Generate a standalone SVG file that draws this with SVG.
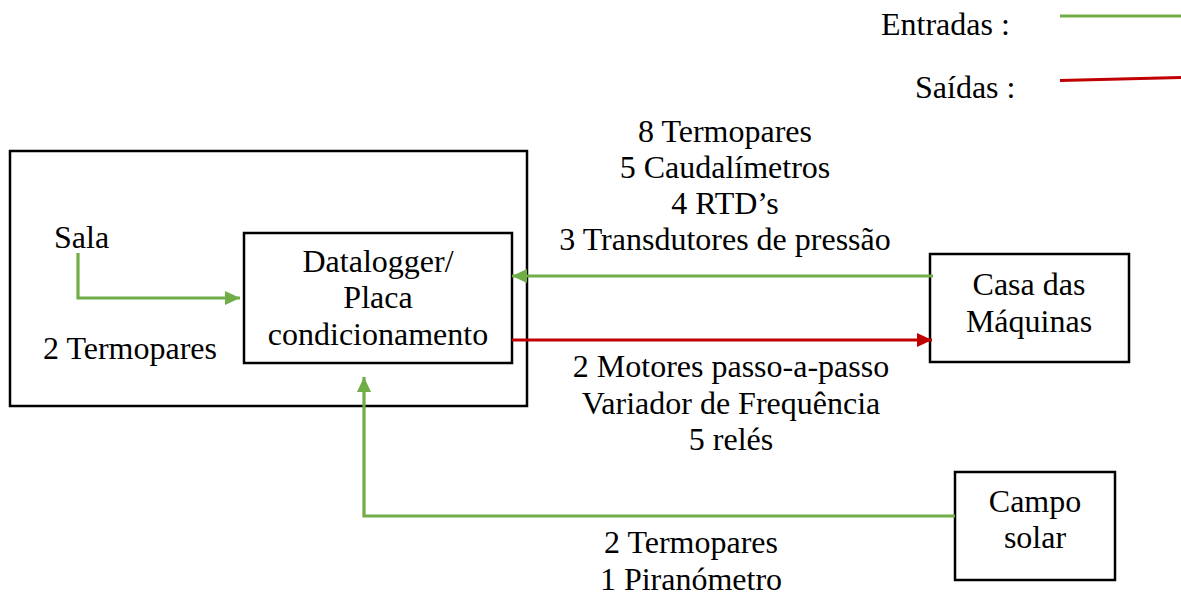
<svg xmlns="http://www.w3.org/2000/svg" width="1181" height="597" viewBox="0 0 1181 597">
  <style>
    text { font-family: "Liberation Serif", "Times New Roman", serif; font-size: 32px; fill: #000; }
    .c { text-anchor: middle; }
    .box { fill: #fff; stroke: #000; stroke-width: 2.5; }
    .in { fill: none; stroke: #70AD47; stroke-width: 3.2; }
    .out { fill: none; stroke: #C00000; stroke-width: 3.2; }
  </style>
  <defs>
    <marker id="arrow-green" markerUnits="userSpaceOnUse" markerWidth="16" markerHeight="16" viewBox="0 0 16 16" refX="15" refY="8" orient="auto">
      <path d="M0,1 L15,8 L0,15 Z" fill="#70AD47"/>
    </marker>
    <marker id="arrow-red" markerUnits="userSpaceOnUse" markerWidth="16" markerHeight="16" viewBox="0 0 16 16" refX="15" refY="8" orient="auto">
      <path d="M0,1 L15,8 L0,15 Z" fill="#C00000"/>
    </marker>
  </defs>

  <!-- legend -->
  <g id="legend">
    <text x="881" y="35">Entradas :</text>
    <line class="in" x1="1060" y1="16" x2="1181" y2="16"/>
    <text x="915" y="98">Saídas :</text>
    <line class="out" x1="1060" y1="80.5" x2="1181" y2="77.5"/>
  </g>

  <!-- room enclosure -->
  <g id="sala">
    <rect class="box" x="10" y="151" width="517" height="255"/>
    <text x="54" y="248">Sala</text>
    <text x="43" y="359">2 Termopares</text>
  </g>

  <!-- datalogger -->
  <g id="datalogger">
    <rect class="box" x="244" y="233" width="268" height="130"/>
    <text class="c" x="378" y="272">Datalogger/</text>
    <text class="c" x="378" y="308">Placa</text>
    <text class="c" x="378" y="345">condicionamento</text>
  </g>

  <!-- machine room -->
  <g id="casa-maquinas">
    <rect class="box" x="930" y="254" width="199" height="108"/>
    <text class="c" x="1029" y="295">Casa das</text>
    <text class="c" x="1029" y="332">Máquinas</text>
  </g>

  <!-- solar field -->
  <g id="campo-solar">
    <rect class="box" x="955" y="472" width="160" height="108"/>
    <text class="c" x="1035" y="512">Campo</text>
    <text class="c" x="1035" y="548">solar</text>
  </g>

  <!-- connectors -->
  <g id="connectors">
    <polyline class="in" points="78,253 78,298 240,298" marker-end="url(#arrow-green)"/>
    <line class="in" x1="933" y1="276" x2="512" y2="276" marker-end="url(#arrow-green)"/>
    <line class="out" x1="512" y1="340" x2="932" y2="340" marker-end="url(#arrow-red)"/>
    <polyline class="in" points="955,516 364,516 364,377" marker-end="url(#arrow-green)"/>
  </g>

  <!-- signal labels -->
  <g id="labels">
    <text class="c" x="725" y="142">8 Termopares</text>
    <text class="c" x="725" y="178">5 Caudalímetros</text>
    <text class="c" x="725" y="214">4 RTD’s</text>
    <text class="c" x="725" y="250">3 Transdutores de pressão</text>
    <text class="c" x="731" y="377">2 Motores passo-a-passo</text>
    <text class="c" x="731" y="414">Variador de Frequência</text>
    <text class="c" x="731" y="450">5 relés</text>
    <text class="c" x="691" y="553">2 Termopares</text>
    <text class="c" x="691" y="590">1 Piranómetro</text>
  </g>
</svg>
